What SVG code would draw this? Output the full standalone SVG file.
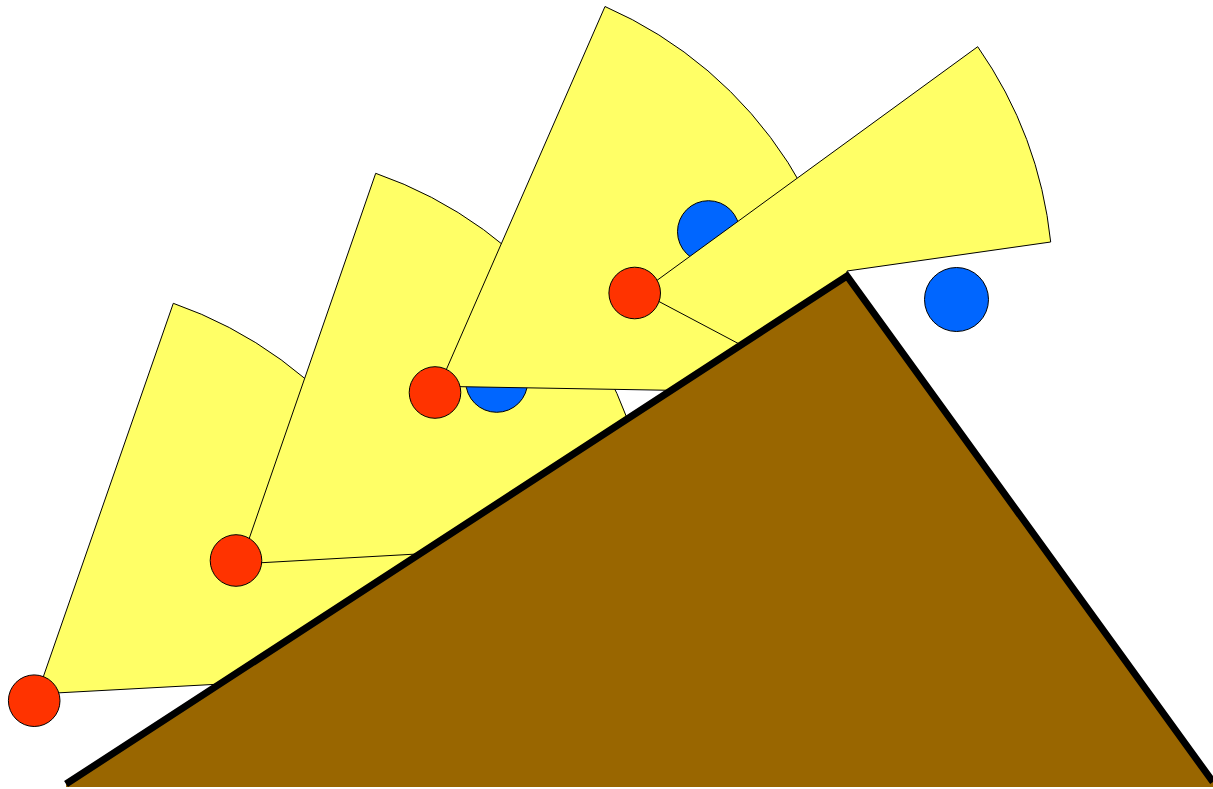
<svg xmlns="http://www.w3.org/2000/svg" width="1213" height="789" viewBox="0 0 1213 789">
  <style>
    .fov { fill: #FFFF66; stroke: #000000; stroke-width: 1; stroke-linejoin: miter; }
    .robot { fill: #FF3300; stroke: #000000; stroke-width: 1; }
    .target { fill: #0066FF; stroke: #000000; stroke-width: 1; }
    .ground { fill: #996600; stroke: none; }
    .slope { fill: none; stroke: #000000; stroke-width: 7; stroke-linejoin: miter; stroke-linecap: butt; }
  </style>
  <rect x="0" y="0" width="1213" height="789" fill="#FFFFFF"/>
  <g id="fov1">
    <path class="fov" d="M 37.3 694 L 173.3 303.3 A 413.7 413.7 0 0 1 450.4 671.6 Z"/>
  </g>
  <g id="fov2">
    <path class="fov" d="M 240.4 563.9 L 375.7 173.3 A 413.3 413.3 0 0 1 653 540.8 Z"/>
  </g>
  <g id="target1">
    <circle class="target" cx="496.7" cy="381.3" r="31"/>
  </g>
  <g id="fov3">
    <path class="fov" d="M 439 386.3 L 605 6.5 A 414.7 414.7 0 0 1 853.6 393.5 Z"/>
  </g>
  <g id="target2">
    <circle class="target" cx="708.5" cy="231.7" r="31"/>
  </g>
  <g id="fov4">
    <path class="fov" d="M 641 292 L 977.7 46.7 A 418 418 0 0 1 1050.7 242 L 847 271 L 847 300 L 770 360.3 Z"/>
  </g>
  <g id="target3">
    <circle class="target" cx="956.5" cy="299.5" r="32"/>
  </g>
  <g id="obstacle">
    <polygon class="ground" points="66,784 847,276 1213,782 1213,787 66,787"/>
    <polyline class="slope" points="66,784 847,276 1213,782"/>
  </g>
  <g id="robot1"><circle class="robot" cx="34.2" cy="700.7" r="25.8"/></g>
  <g id="robot2"><circle class="robot" cx="236" cy="560.5" r="25.8"/></g>
  <g id="robot3"><circle class="robot" cx="435" cy="392.5" r="25.8"/></g>
  <g id="robot4"><circle class="robot" cx="634.7" cy="293" r="25.8"/></g>
  <g id="connectors"></g>
</svg>
